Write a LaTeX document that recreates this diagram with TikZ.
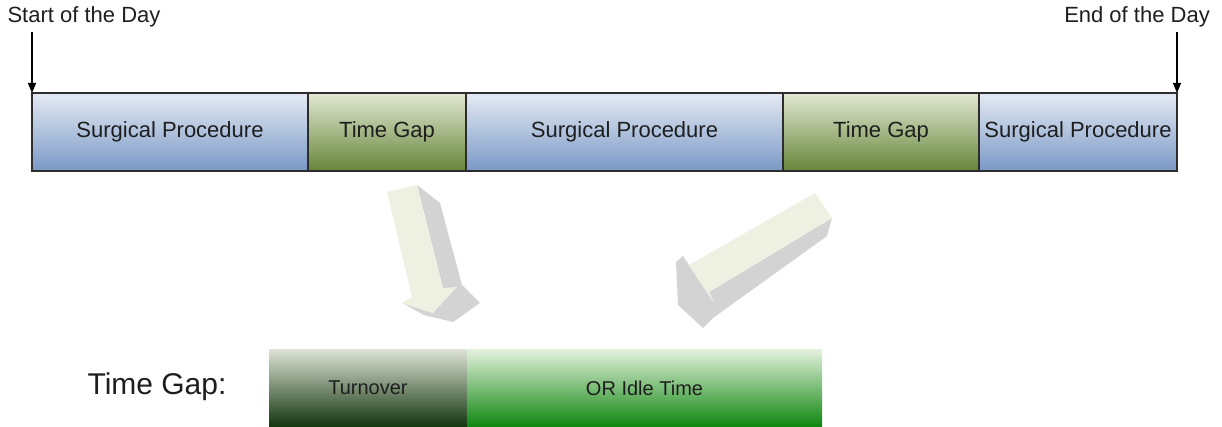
\documentclass[tikz,border=0pt]{standalone}
\usepackage{fontspec}
\setmainfont{Liberation Sans}
\usetikzlibrary{arrows.meta}
\definecolor{txt}{RGB}{30,30,30}
\definecolor{edge}{RGB}{45,45,45}
\definecolor{procTop}{RGB}{228,234,243}
\definecolor{procBot}{RGB}{122,153,198}
\definecolor{gapTop}{RGB}{226,232,210}
\definecolor{gapBot}{RGB}{102,133,58}
\definecolor{turnTop}{RGB}{222,228,214}
\definecolor{turnMid}{RGB}{120,142,112}
\definecolor{turnBot}{RGB}{18,52,14}
\definecolor{idleTop}{RGB}{228,242,222}
\definecolor{idleMid}{RGB}{120,196,112}
\definecolor{idleBot}{RGB}{14,134,14}
\definecolor{arrowFace}{RGB}{238,241,226}
\definecolor{arrowSide}{RGB}{211,211,211}
\tikzset{
  seg/.style={draw=edge, line width=1.2pt, inner sep=0pt, outer sep=0pt,
    minimum height=78pt, anchor=west, text=txt, font=\fontsize{22pt}{24pt}\selectfont},
  proc/.style={seg, top color=procTop, bottom color=procBot},
  gap/.style={seg, top color=gapTop, bottom color=gapBot},
  part/.style={inner sep=0pt, outer sep=0pt, minimum height=78pt, anchor=west, text=txt,
    font=\fontsize{20pt}{22pt}\selectfont},
  daylabel/.style={text=txt, inner sep=0pt, font=\fontsize{22pt}{24pt}\selectfont},
  marker/.style={line width=1.2pt, draw=black, -{Triangle[width=8pt,length=10pt]}},
  face/.style={fill=arrowFace},
  side/.style={fill=arrowSide}
}
\begin{document}
\begin{tikzpicture}[x=1pt, y=-1pt]
\useasboundingbox (0,0) rectangle (1222,427);

% day timeline
\node[proc, minimum width=276pt] (p1) at (32,132) {Surgical Procedure};
\node[gap,  minimum width=158pt] (g1) at (p1.east) {Time Gap};
\node[proc, minimum width=317pt] (p2) at (g1.east) {Surgical Procedure};
\node[gap,  minimum width=196pt] (g2) at (p2.east) {Time Gap};
\node[proc, minimum width=198pt] (p3) at (g2.east) {Surgical Procedure};

% start / end markers
\node[daylabel] (start) at (84,17) {Start of the Day};
\node[daylabel] (end) at (1137,17) {End of the Day};
\coordinate (startTop) at (p1.north west |- 0,32);
\coordinate (endTop) at (p3.north east |- 0,32);
\draw[marker] (startTop) -- (p1.north west);
\draw[marker] (endTop) -- (p3.north east);

% block arrow from the first gap
\fill[side] (417,185) -- (440,203) -- (462,285) -- (480,303) -- (453,322)
  -- (424,315) -- (402,303) -- (433,313) -- (443,288) -- cycle;
\fill[face] (387,192) -- (417,185) -- (443,288) -- (457,287) -- (433,313)
  -- (402,303) -- (412,297) -- cycle;

% block arrow from the second gap
\fill[side] (683,256) -- (676,262) -- (678,305) -- (703,328) -- (713,318)
  -- (827,236) -- (832,218) -- (709,292) -- (714,303) -- cycle;
\fill[face] (683,256) -- (689,265) -- (815,193) -- (832,218) -- (709,292)
  -- (714,303) -- cycle;

% breakdown of a time gap
\node[text=txt, inner sep=0pt, font=\fontsize{30pt}{32pt}\selectfont] (title) at (157,387) {Time Gap:};
\node[part, minimum width=198pt, top color=turnTop, middle color=turnMid, bottom color=turnBot]
  (turn) at (269,388) {Turnover};
\node[part, minimum width=355pt, top color=idleTop, middle color=idleMid, bottom color=idleBot]
  (idle) at (turn.east) {OR Idle Time};
\end{tikzpicture}
\end{document}
